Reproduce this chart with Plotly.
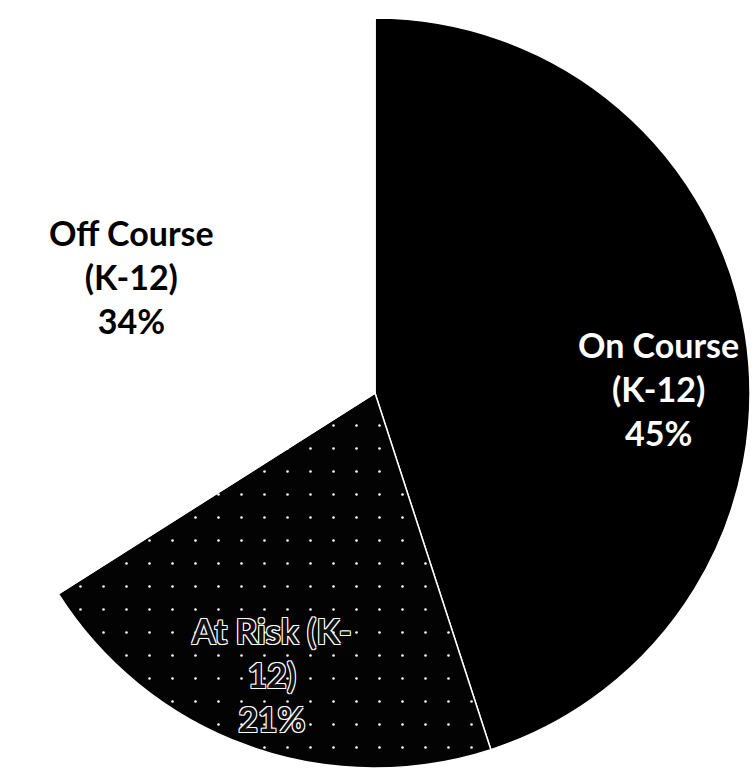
import math
import plotly.graph_objects as go

categories = ["On Course (K-12)", "At Risk (K-12)", "Off Course (K-12)"]
display_labels = ["On Course<br>(K-12)", "At Risk (K-<br>12)", "Off Course<br>(K-12)"]
values = [45, 21, 34]
colors = ["#000000", "#030303", "#ffffff"]
line_colors = ["#ffffff", "#ffffff", "#ffffff"]
text_colors = ["#ffffff", "#111111", "#000000"]
text_shadows = ["none",
                "1px 1px 0 #fff, -1px -1px 0 #fff, 1px -1px 0 #fff, -1px 1px 0 #fff",
                "none"]
label_radius = [0.755, 0.80, 0.72]
label_angle_shift = [8.0, 0.4, -3.3]  # degrees, label placement tweak

W, H = 753, 782
CX, CY, R = 375, 393, 375  # pie centre and radius in pixels

fig = go.Figure(go.Pie(
    labels=categories,
    values=values,
    textinfo="none",
    sort=False,
    direction="clockwise",
    rotation=0,
    domain=dict(x=[(CX - R) / W, (CX + R) / W],
                y=[(H - CY - R) / H, (H - CY + R) / H]),
    marker=dict(colors=colors, line=dict(color=line_colors, width=1.5),
                pattern=dict(shape=["", ".", ""], fgcolor="#ffffff",
                             bgcolor=colors, size=23, solidity=0.01,
                             fillmode="replace")),
    showlegend=False,
    hoverinfo="skip",
))

total = sum(values)
cum = 0
for i, v in enumerate(values):
    mid = (cum + v / 2) / total * 2 * math.pi + math.radians(label_angle_shift[i])
    cum += v
    px = CX + label_radius[i] * R * math.sin(mid)
    py = CY - label_radius[i] * R * math.cos(mid)
    fig.add_annotation(
        x=px / W, y=1 - py / H, xref="paper", yref="paper",
        xanchor="center", yanchor="middle",
        text=f"{display_labels[i]}<br>{round(v / total * 100)}%",
        showarrow=False, align="center",
        font=dict(family="Lato", size=34, color=text_colors[i], weight="bold",
                  shadow=text_shadows[i]),
    )

fig.update_layout(
    width=W, height=H,
    margin=dict(l=0, r=0, t=0, b=0),
    paper_bgcolor="white",
    plot_bgcolor="white",
)
fig.write_html("out.html", config={"displayModeBar": False},
               post_script="document.body.style.margin='0';")
